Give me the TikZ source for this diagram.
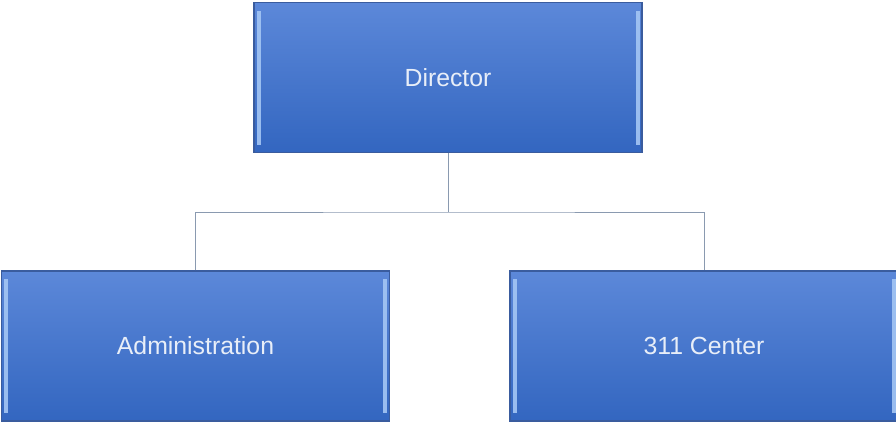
\documentclass[tikz,border=0pt]{standalone}
\usepackage{fontspec}
\setmainfont{Liberation Sans}
\definecolor{boxtop}{HTML}{5C88D9}
\definecolor{boxbot}{HTML}{3366C0}
\definecolor{boxedge}{HTML}{3A5C9E}
\definecolor{bevel}{HTML}{A4C6F4}
\definecolor{txt}{HTML}{E8EEF8}
\definecolor{conn}{HTML}{8A9AB0}
\begin{document}
\begin{tikzpicture}[x=1pt,y=-1pt,
  orgbox/.style={rectangle, draw=boxedge, line width=1.2pt, top color=boxtop, bottom color=boxbot,
    minimum width=388pt, minimum height=150pt, inner sep=0pt, text=txt, font=\fontsize{24.8}{28}\selectfont,
    path picture={
      \fill[bevel,opacity=0.9] ([xshift=2.5pt,yshift=-8pt]path picture bounding box.north west) rectangle ([xshift=6.5pt,yshift=8pt]path picture bounding box.south west);
      \fill[bevel,opacity=0.9] ([xshift=-6.5pt,yshift=-8pt]path picture bounding box.north east) rectangle ([xshift=-2.5pt,yshift=8pt]path picture bounding box.south east);
    }},
  link/.style={draw=conn, line width=1pt}]
\useasboundingbox (0,0) rectangle (896,423);
\node[orgbox] (dir) at (448,77.5) {Director};
\node[orgbox] (adm) at (195.5,346) {Administration};
\node[orgbox] (ctr) at (704,346) {311 Center};
\coordinate (mid) at (448,212);
\draw[link] (dir.south) -- (mid);
\draw[link] (adm.north) |- (mid) -| (ctr.north);
\end{tikzpicture}
\end{document}
